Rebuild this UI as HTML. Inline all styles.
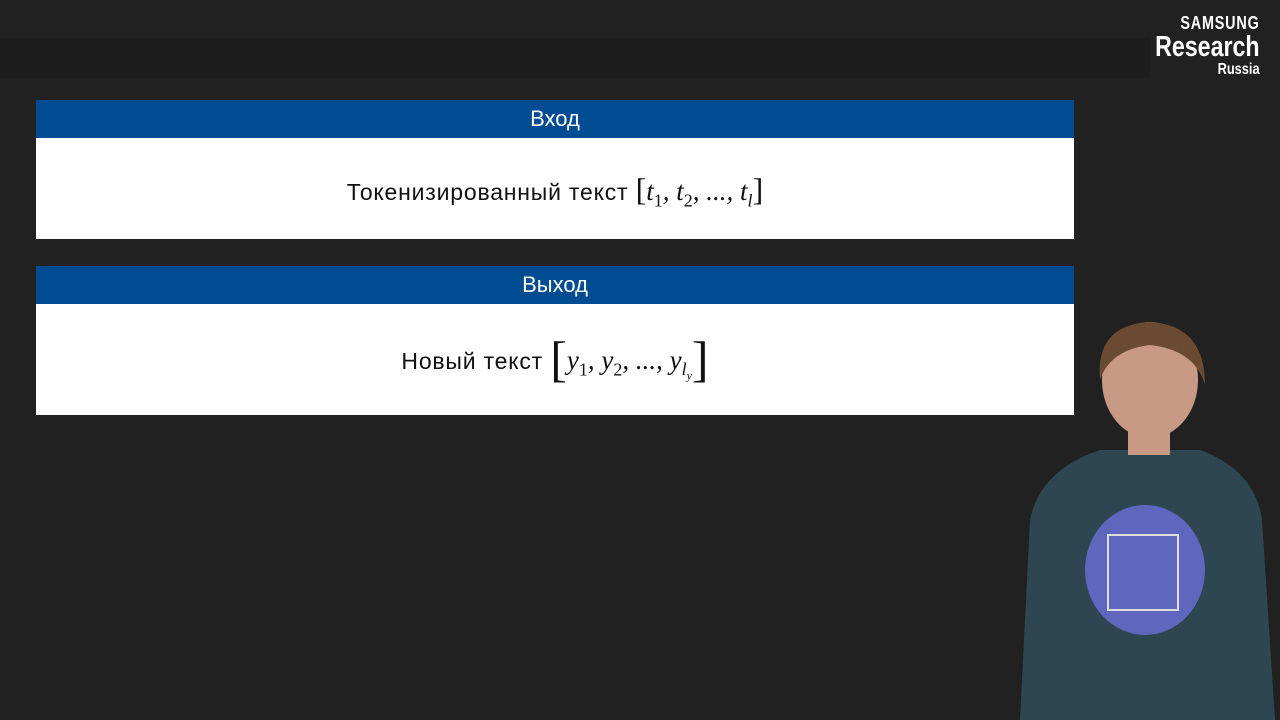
<!DOCTYPE html>
<html><head><meta charset="utf-8"><style>
body{margin:0;width:1280px;height:720px;background:#212121;position:relative;overflow:hidden;font-family:"Liberation Sans","DejaVu Sans",sans-serif}
.band{position:absolute;left:0;top:38px;width:1150px;height:40px;background:#1d1d1d}
.blk{position:absolute;left:36px;width:1038px;background:#fff}
.hd{background:#004c93;color:#fff;text-align:center;font-size:22px;height:38px;line-height:38px}
.bd{text-align:center;color:#111;font-size:23px;letter-spacing:0.8px}
.m{font-family:"Liberation Serif","DejaVu Serif",serif;font-style:italic;font-size:27px;letter-spacing:0}
.n{font-family:"Liberation Serif",serif;font-style:normal}
sub{font-size:18px;font-family:"Liberation Serif",serif;font-style:normal}
sub i{font-style:italic}
.logo{position:absolute;right:20px;top:14px;color:#fff;text-align:right;font-weight:bold;line-height:1;transform:scaleX(0.8);transform-origin:right}
</style></head><body>
<div class="band"></div>
<div class="logo"><div style="font-size:18px;letter-spacing:1px">SAMSUNG</div><div style="font-size:29px;margin-top:1px">Research</div><div style="font-size:16px">Russia</div></div>
<div class="blk" style="top:100px;height:139px"><div class="hd">Вход</div>
<div class="bd" style="padding-top:33px">Токенизированный текст <span class="m"><span class="n" style="font-size:32px">[</span>t<sub>1</sub>, t<sub>2</sub>, ..., t<sub><i>l</i></sub><span class="n" style="font-size:32px">]</span></span></div></div>
<div class="blk" style="top:266px;height:149px"><div class="hd">Выход</div>
<div class="bd" style="padding-top:26px">Новый текст <span class="m"><span class="n" style="font-size:50px;vertical-align:-7px">[</span>y<sub>1</sub>, y<sub>2</sub>, ..., y<sub><i>l</i><sub style="font-size:12px"><i>y</i></sub></sub><span class="n" style="font-size:50px;vertical-align:-7px">]</span></span></div></div>
<svg style="position:absolute;left:0;top:0" width="1280" height="720">
<path d="M1020 720 L1030 520 Q1040 470 1100 450 L1200 450 Q1255 470 1262 520 L1275 720Z" fill="#2d4651"/>
<ellipse cx="1150" cy="380" rx="48" ry="58" fill="#c89a85"/>
<path d="M1100 380 Q1095 325 1150 322 Q1205 325 1205 385 Q1195 350 1150 345 Q1110 350 1100 380Z" fill="#6a4a32"/>
<rect x="1128" y="430" width="42" height="25" fill="#c89a85"/>
<ellipse cx="1145" cy="570" rx="60" ry="65" fill="#6a6fd8" opacity="0.8"/>
<rect x="1108" y="535" width="70" height="75" fill="none" stroke="#ddd" stroke-width="2"/>
</svg>
</body></html>
